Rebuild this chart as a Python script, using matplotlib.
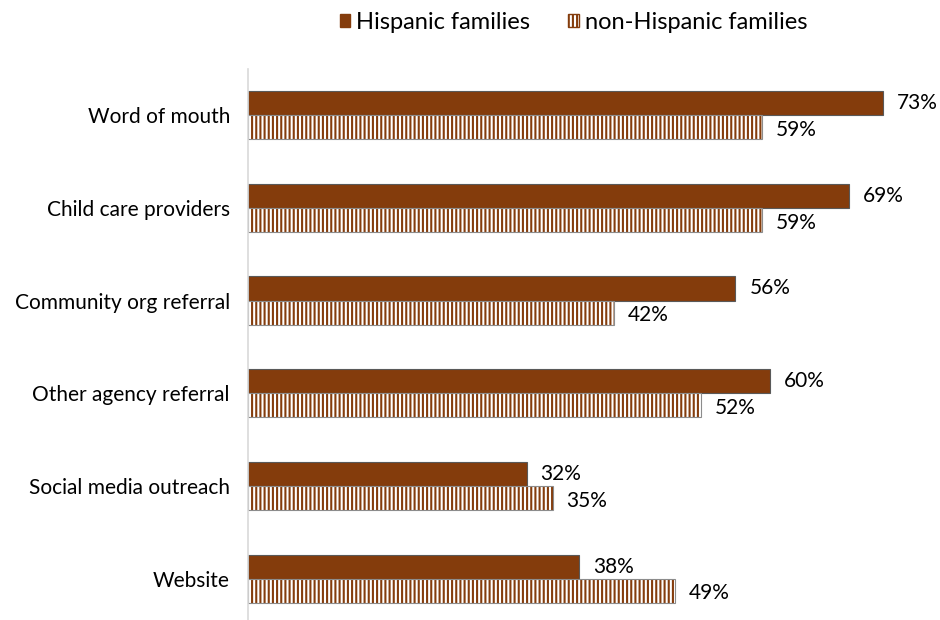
import numpy as np
import matplotlib.pyplot as plt
from matplotlib.patches import Patch

# -----------------------
# Data
# -----------------------
categories = ["Word of mouth", "Child care providers", "Community org referral",
              "Other agency referral", "Social media outreach", "Website"]
hispanic = [73, 69, 56, 60, 32, 38]
non_hispanic = [59, 59, 42, 52, 35, 49]

BROWN = "#843C0C"
plt.rcParams['font.family'] = ['Lato', 'DejaVu Sans']
plt.rcParams['hatch.linewidth'] = 1.5

fig = plt.figure(figsize=(9.4, 6.2), dpi=100)
ax = fig.add_axes([248 / 940, -0.008, 1 - 248 / 940, 0.897])

pos = np.arange(len(categories))
h = 0.26

ax.barh(pos - h / 2, hispanic, height=h, color=BROWN, edgecolor="#595959", linewidth=0.8)
# hatched fill (hatch takes edge colour), then a grey outline on top
ax.barh(pos + h / 2, non_hispanic, height=h, color="white", edgecolor=BROWN,
        linewidth=0, hatch="||||")
ax.barh(pos + h / 2, non_hispanic, height=h, color="none", edgecolor="#8c8c8c",
        linewidth=0.8)

for i, (a, b) in enumerate(zip(hispanic, non_hispanic)):
    ax.text(a + 1.6, i - h / 2, f"{a}%", va="center", ha="left", fontsize=15)
    ax.text(b + 1.6, i + h / 2 + 0.03, f"{b}%", va="center", ha="left", fontsize=15)

ax.set_ylim(len(categories) - 0.5, -0.5)
ax.set_xlim(0, 79.5)
ax.set_yticks(pos)
ax.set_yticklabels(categories, fontsize=15)
ax.tick_params(axis="y", length=0, pad=13)
ax.set_xticks([])
for s in ["top", "right", "bottom"]:
    ax.spines[s].set_visible(False)
ax.spines["left"].set_color("#d9d9d9")
ax.spines["left"].set_linewidth(1.2)

handles = [Patch(facecolor=BROWN, edgecolor=BROWN, label="Hispanic families"),
           Patch(facecolor="white", edgecolor=BROWN, hatch="||||", label="non-Hispanic families")]
fig.legend(handles=handles, loc="upper center", bbox_to_anchor=(0.61, 1.015), ncol=2,
           frameon=False, fontsize=17, handlelength=0.45, handleheight=0.45,
           handletextpad=0.25, columnspacing=1.6)

fig.savefig("out.png", dpi=100)
